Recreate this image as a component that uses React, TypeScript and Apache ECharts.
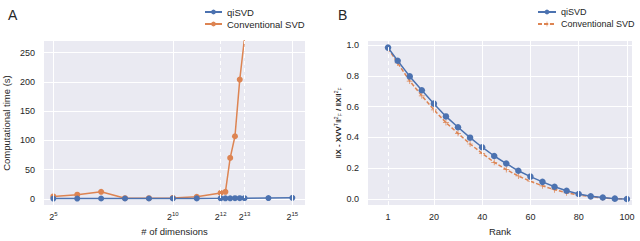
import React, { useEffect, useRef } from "react";
import * as echarts from "echarts";

// Panel A — dimensions as log2 exponents
const dimsLog2 = [5, 6, 7, 8, 9, 10, 11, 12, 12.2, 12.4, 12.6, 12.8, 13, 14, 15];
const qiTimeA = [0.4, 0.4, 0.5, 0.5, 0.5, 0.6, 0.7, 0.8, 0.9, 0.9, 1.0, 1.0, 1.1, 1.3, 1.6];
const convTimeA = [4, 7, 12, 1, 1, 1.5, 3.5, 10, 12, 70, 107, 204, 275];
const xTicksA = [5, 10, 12, 13, 15];
const xGridA = [5, 10, 15];
const xDashA = [12, 13];
const yTicksA = [0, 50, 100, 150, 200, 250];

// Panel B
const ranks = [1, 5, 10, 15, 20, 25, 30, 35, 40, 45, 50, 55, 60, 65, 70, 75, 80, 85, 90, 95, 100];
const qiErr = [0.983, 0.898, 0.796, 0.706, 0.619, 0.536, 0.466, 0.398, 0.336, 0.279, 0.23, 0.183, 0.145, 0.111, 0.079, 0.053, 0.032, 0.017, 0.009, 0.002, 0.0];
const convErr = [0.979, 0.883, 0.766, 0.67, 0.579, 0.496, 0.426, 0.357, 0.296, 0.238, 0.191, 0.149, 0.115, 0.085, 0.06, 0.04, 0.026, 0.015, 0.006, 0.002, 0.0];
const xTicksB = [1, 20, 40, 60, 80, 100];
const xGridB = [20, 40, 60, 80, 100];
const yTicksB = [0, 0.2, 0.4, 0.6, 0.8, 1.0];

const BLUE = "#4C72B0";
const ORANGE = "#DD8452";
const BG = "#EAEAF2";
const TXT = "#262626";
const FONT = "'Liberation Sans', Arial, sans-serif";
const PLUS = "path://M0,4.4H10V5.6H0Z M4.4,0H5.6V10H4.4Z";

export default function App() {
  const ref = useRef<HTMLDivElement>(null);
  useEffect(() => {
    if (!ref.current) return;
    const chart = echarts.init(ref.current, undefined, { renderer: "svg" });
    const gridLine = (v: number, dashed: boolean, axis: string) => ({
      [axis]: v,
      lineStyle: { color: "#fff", width: 1, type: dashed ? [4, 3] : "solid" },
    });
    const option: any = {
      animation: false,
      textStyle: { fontFamily: FONT, color: TXT },
      title: [
        { text: "A", left: 3, top: 3, textStyle: { fontSize: 14, fontWeight: "normal", color: TXT, fontFamily: FONT } },
        { text: "B", left: 333, top: 3, textStyle: { fontSize: 14, fontWeight: "normal", color: TXT, fontFamily: FONT } },
      ],
      legend: [
        {
          data: ["qiSVD", "Conventional SVD"],
          left: 204, top: 6, padding: 0, orient: "vertical", itemWidth: 17, itemHeight: 6, itemGap: 0,
          textStyle: { fontSize: 9.5, color: TXT, fontFamily: FONT, lineHeight: 12 },
        },
        {
          data: ["qiSVD_B", "Conventional SVD_B"],
          formatter: (n: string) => n.replace("_B", ""),
          left: 537, top: 6, padding: 0, orient: "vertical", itemWidth: 18, itemHeight: 6, itemGap: 0,
          textStyle: { fontSize: 9, color: TXT, fontFamily: FONT, lineHeight: 12 },
        },
      ],
      grid: [
        { left: 44, top: 41, width: 261, height: 167, show: true, backgroundColor: BG, borderWidth: 0 },
        { left: 368, top: 41, width: 264, height: 167, show: true, backgroundColor: BG, borderWidth: 0 },
      ],
      xAxis: [
        {
          type: "value", gridIndex: 0, min: 4.61, max: 15.53,
          axisLine: { show: false }, axisTick: { show: false, customValues: xTicksA }, splitLine: { show: false },
          axisLabel: {
            customValues: xTicksA, margin: 6, color: TXT, fontSize: 9,
            formatter: (v: number) => `{b|2}{s|${v}}`,
            rich: { b: { fontSize: 9, color: TXT, fontFamily: FONT }, s: { fontSize: 6, color: TXT, fontFamily: FONT, verticalAlign: "top", padding: [0, 0, 5, 0] } },
          },
          name: "# of dimensions", nameLocation: "middle", nameGap: 21,
          nameTextStyle: { fontSize: 9.5, color: TXT, fontFamily: FONT },
        },
        {
          type: "value", gridIndex: 1, min: -7.3, max: 102.1,
          axisLine: { show: false }, axisTick: { show: false, customValues: xTicksB }, splitLine: { show: false },
          axisLabel: { customValues: xTicksB, margin: 7, color: TXT, fontSize: 9, fontFamily: FONT },
          name: "Rank", nameLocation: "middle", nameGap: 19,
          nameTextStyle: { fontSize: 9.5, color: TXT, fontFamily: FONT },
        },
      ],
      yAxis: [
        {
          type: "value", gridIndex: 0, min: -10.6, max: 270,
          axisLine: { show: false }, axisTick: { show: false, customValues: yTicksA },
          splitLine: { show: true, lineStyle: { color: "#fff", width: 1 } },
          axisLabel: { customValues: yTicksA, margin: 9, color: TXT, fontSize: 9, fontFamily: FONT },
          name: "Computational time (s)", nameLocation: "middle", nameGap: 33,
          nameTextStyle: { fontSize: 9.5, color: TXT, fontFamily: FONT },
        },
        {
          type: "value", gridIndex: 1, min: -0.04, max: 1.026,
          axisLine: { show: false }, axisTick: { show: false, customValues: yTicksB },
          splitLine: { show: true, lineStyle: { color: "#fff", width: 1 } },
          axisLabel: { customValues: yTicksB, margin: 9, color: TXT, fontSize: 9, fontFamily: FONT, formatter: (v: number) => v.toFixed(1) },
          name: "{n|‖X - XVV}{s|T}{n|‖}{s|2}{b|F}{n| / ‖X‖}{s|2}{b|F}",
          nameLocation: "middle", nameGap: 25,
          nameTextStyle: {
            fontSize: 8, color: TXT, fontFamily: FONT,
            rich: {
              n: { fontSize: 8, color: TXT, fontFamily: FONT, fontWeight: "bold" },
              s: { fontSize: 5, color: TXT, fontFamily: FONT, verticalAlign: "top", padding: [0, 0, 4, 0] },
              b: { fontSize: 5, color: TXT, fontFamily: FONT, verticalAlign: "bottom", padding: [4, 0, 0, 0] },
            },
          },
        },
      ],
      series: [
        {
          type: "line", xAxisIndex: 0, yAxisIndex: 0, z: 1, silent: true,
          data: [[5, 0]], symbol: "none", lineStyle: { opacity: 0 },
          markLine: {
            silent: true, symbol: "none", label: { show: false },
            data: [...xGridA.map((v) => gridLine(v, false, "xAxis")), ...xDashA.map((v) => gridLine(v, true, "xAxis"))],
          },
        },
        {
          type: "line", xAxisIndex: 1, yAxisIndex: 1, z: 1, silent: true,
          data: [[1, 0]], symbol: "none", lineStyle: { opacity: 0 },
          markLine: {
            silent: true, symbol: "none", label: { show: false },
            data: [...xGridB.map((v) => gridLine(v, false, "xAxis")), gridLine(1, true, "xAxis")],
          },
        },
        {
          name: "qiSVD", type: "line", xAxisIndex: 0, yAxisIndex: 0, z: 3,
          data: dimsLog2.map((x, i) => [x, qiTimeA[i]]),
          symbol: "circle", symbolSize: 6, color: BLUE,
          lineStyle: { width: 1.5, color: BLUE }, itemStyle: { color: BLUE },
        },
        {
          name: "Conventional SVD", type: "line", xAxisIndex: 0, yAxisIndex: 0, z: 2,
          data: convTimeA.map((y, i) => [dimsLog2[i], y]),
          symbol: "circle", symbolSize: 6, color: ORANGE,
          lineStyle: { width: 1.5, color: ORANGE }, itemStyle: { color: ORANGE },
        },
        {
          name: "qiSVD_B", type: "line", xAxisIndex: 1, yAxisIndex: 1, z: 3,
          data: ranks.map((x, i) => [x, qiErr[i]]),
          symbol: "circle", symbolSize: 6.5, color: BLUE,
          lineStyle: { width: 1.5, color: BLUE }, itemStyle: { color: BLUE },
        },
        {
          name: "Conventional SVD_B", type: "line", xAxisIndex: 1, yAxisIndex: 1, z: 2,
          data: ranks.map((x, i) => [x, convErr[i]]),
          symbol: PLUS, symbolSize: 6, color: ORANGE,
          lineStyle: { width: 1.5, color: ORANGE, type: [4, 2] }, itemStyle: { color: ORANGE },
        },
      ],
    };
    chart.setOption(option);
    return () => chart.dispose();
  }, []);
  return <div ref={ref} style={{ width: 640, height: 241, position: "absolute", left: 0, top: 0 }} />;
}
